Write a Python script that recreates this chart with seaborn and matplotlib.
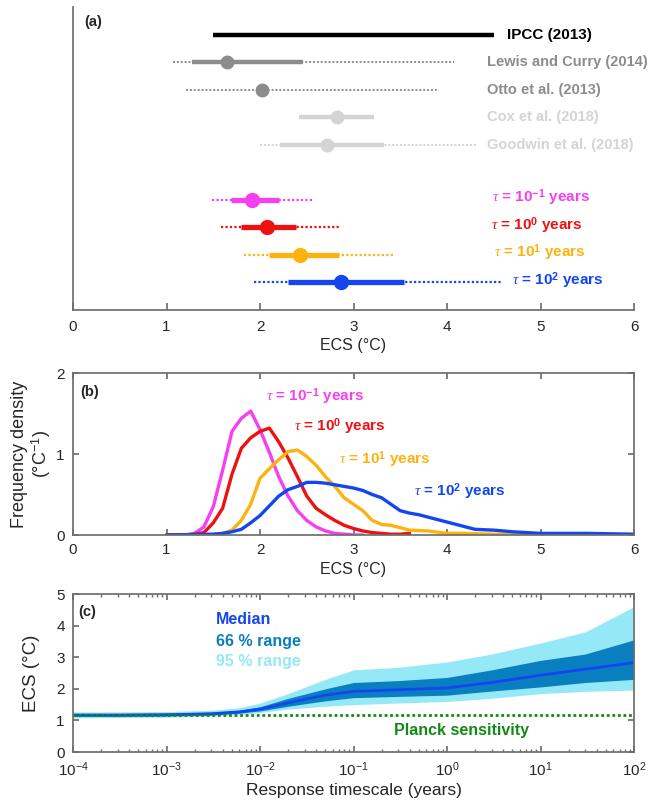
import numpy as np
import matplotlib
matplotlib.use("Agg")
import matplotlib.pyplot as plt
from matplotlib.ticker import NullFormatter
import seaborn as sns

# ---- panel (a): ECS ranges ----
ipcc_range = [1.5, 4.5]

lit_names = ["Lewis and Curry (2014)", "Otto et al. (2013)",
             "Cox et al. (2018)", "Goodwin et al. (2018)"]
lit_median = [1.65, 2.02, 2.82, 2.72]
lit_lo66 = [1.27, np.nan, 2.42, 2.21]
lit_hi66 = [2.46, np.nan, 3.22, 3.33]
lit_lo90 = [1.07, 1.21, np.nan, 2.00]
lit_hi90 = [4.07, 3.91, np.nan, 4.31]
lit_colors = ["#8c8c8c", "#8c8c8c", "#d4d4d4", "#d4d4d4"]

tau_labels = [r"$\tau$ = 10$^{\mathbf{-1}}$ years", r"$\tau$ = 10$^{\mathbf{0}}$ years",
              r"$\tau$ = 10$^{\mathbf{1}}$ years", r"$\tau$ = 10$^{\mathbf{2}}$ years"]
tau_median = [1.91, 2.07, 2.43, 2.87]
tau_lo66 = [1.69, 1.80, 2.10, 2.30]
tau_hi66 = [2.20, 2.38, 2.85, 3.54]
tau_lo95 = [1.49, 1.58, 1.83, 1.94]
tau_hi95 = [2.58, 2.85, 3.42, 4.59]
tau_colors = ["#f53ff0", "#ee1111", "#fdb20f", "#1446f0"]

# ---- panel (b): frequency densities ----
pdf_x_m1 = [1.0, 1.2, 1.3, 1.4, 1.5, 1.6, 1.7, 1.8, 1.9, 2.0, 2.1, 2.2, 2.3, 2.4,
            2.5, 2.6, 2.7, 2.8, 2.9, 3.0, 3.1]
pdf_y_m1 = [0, 0, 0.02, 0.10, 0.35, 0.80, 1.28, 1.44, 1.53, 1.30, 1.02, 0.72, 0.48,
            0.30, 0.18, 0.10, 0.05, 0.02, 0.01, 0, 0]
pdf_x_0 = [1.0, 1.2, 1.3, 1.4, 1.5, 1.6, 1.7, 1.8, 1.9, 2.0, 2.1, 2.2, 2.3, 2.4, 2.5,
           2.6, 2.7, 2.8, 2.9, 3.0, 3.1, 3.2, 3.3, 3.4, 3.5, 3.6]
pdf_y_0 = [0, 0, 0.01, 0.03, 0.15, 0.33, 0.75, 1.07, 1.20, 1.28, 1.32, 1.15, 0.95,
           0.72, 0.48, 0.33, 0.25, 0.18, 0.12, 0.08, 0.05, 0.03, 0.02, 0.01, 0.01, 0.02]
pdf_x_1 = [1.3, 1.5, 1.6, 1.7, 1.8, 1.9, 2.0, 2.1, 2.2, 2.3, 2.4, 2.5, 2.6, 2.7, 2.8,
           2.9, 3.0, 3.1, 3.2, 3.3, 3.4, 3.5, 3.6, 3.8, 4.0, 4.2, 4.5, 5.0, 5.3]
pdf_y_1 = [0, 0.01, 0.02, 0.06, 0.18, 0.38, 0.70, 0.82, 0.93, 1.03, 1.05, 0.97, 0.86,
           0.72, 0.60, 0.46, 0.38, 0.30, 0.18, 0.13, 0.12, 0.09, 0.06, 0.05, 0.02,
           0.02, 0.01, 0.01, 0.01]
pdf_x_2 = [1.0, 1.5, 1.6, 1.7, 1.8, 1.9, 2.0, 2.1, 2.2, 2.3, 2.4, 2.5, 2.6, 2.7, 2.8,
           2.9, 3.0, 3.1, 3.2, 3.3, 3.4, 3.5, 3.6, 3.7, 3.8, 3.9, 4.0, 4.1, 4.2, 4.3,
           4.5, 4.7, 5.0, 5.5, 6.0]
pdf_y_2 = [0, 0.01, 0.02, 0.04, 0.07, 0.15, 0.24, 0.36, 0.48, 0.56, 0.60, 0.65, 0.65,
           0.64, 0.62, 0.60, 0.58, 0.55, 0.50, 0.46, 0.38, 0.30, 0.27, 0.25, 0.22,
           0.19, 0.16, 0.13, 0.10, 0.07, 0.06, 0.04, 0.02, 0.02, 0.01]

# ---- panel (c): ECS vs response timescale ----
timescale = [1e-4, 3e-4, 1e-3, 3e-3, 6e-3, 1e-2, 2e-2, 5e-2, 1e-1, 3e-1, 1, 3, 10, 30, 100]
ecs_median = [1.17, 1.17, 1.18, 1.21, 1.27, 1.36, 1.56, 1.80, 1.92, 1.97, 2.03, 2.20,
              2.43, 2.62, 2.83]
ecs_p17 = [1.13, 1.13, 1.14, 1.17, 1.23, 1.30, 1.45, 1.62, 1.72, 1.76, 1.80, 1.93,
           2.06, 2.20, 2.30]
ecs_p83 = [1.22, 1.22, 1.23, 1.26, 1.32, 1.43, 1.70, 2.00, 2.20, 2.26, 2.36, 2.60,
           2.90, 3.10, 3.55]
ecs_p025 = [1.08, 1.09, 1.10, 1.14, 1.18, 1.25, 1.36, 1.45, 1.50, 1.55, 1.60, 1.70,
            1.85, 1.92, 1.96]
ecs_p975 = [1.27, 1.27, 1.28, 1.32, 1.40, 1.55, 1.85, 2.30, 2.60, 2.68, 2.85, 3.10,
            3.45, 3.80, 4.60]
planck = 1.18
c_ticks = [1e-4, 1e-3, 1e-2, 1e-1, 1, 10, 100]

sns.set_theme(style="ticks")
plt.rcParams["font.family"] = ["Liberation Sans", "DejaVu Sans"]
plt.rcParams["mathtext.fontset"] = "custom"
plt.rcParams["mathtext.rm"] = "Liberation Sans"
plt.rcParams["mathtext.bf"] = "Liberation Sans:bold"
plt.rcParams["mathtext.it"] = "Liberation Serif:italic"
plt.rcParams["axes.edgecolor"] = "#6e6e6e"
plt.rcParams["xtick.color"] = "#6e6e6e"
plt.rcParams["ytick.color"] = "#6e6e6e"
plt.rcParams["xtick.labelcolor"] = "#262626"
plt.rcParams["ytick.labelcolor"] = "#262626"
plt.rcParams["axes.labelcolor"] = "#262626"

fig = plt.figure(figsize=(6.48, 8.05), dpi=100)
ax_a = fig.add_axes([0.1127, 0.6149, 0.8657, 0.3762])
ax_b = fig.add_axes([0.1127, 0.3354, 0.8657, 0.2012])
ax_c = fig.add_axes([0.1127, 0.0658, 0.8657, 0.1963])

# panel (a)
ax_a.hlines(10, ipcc_range[0], ipcc_range[1], color="black", lw=3.2)
ax_a.text(4.64, 10, "IPCC (2013)", color="black", fontsize=11,
          fontweight="bold", va="center")
for i, name in enumerate(lit_names):
    row = 9 - i
    c = lit_colors[i]
    ax_a.hlines(row, lit_lo90[i], lit_hi90[i], color=c, lw=1.4, linestyles=(0, (1, 1)))
    ax_a.hlines(row, lit_lo66[i], lit_hi66[i], color=c, lw=3.2)
    ax_a.plot(lit_median[i], row, "o", color=c, ms=9)
    ax_a.text(4.43, row, name, color=c, fontsize=10.5, fontweight="bold", va="center")
for i, lab in enumerate(tau_labels):
    row = 4 - i
    c = tau_colors[i]
    ax_a.hlines(row, tau_lo95[i], tau_hi95[i], color=c, lw=1.6, linestyles=(0, (1, 1)))
    ax_a.hlines(row, tau_lo66[i], tau_hi66[i], color=c, lw=3.8)
    ax_a.plot(tau_median[i], row, "o", color=c, ms=10)
    ax_a.text([4.48, 4.47, 4.5, 4.7][i], row + 0.08, lab, color=c, fontsize=11,
              fontweight="bold", va="center")
ax_a.text(0.12, 10.45, "(a)", fontsize=10.5, fontweight="bold", va="center")
ax_a.set_xlim(0, 6)
ax_a.set_ylim(0, 11)
ax_a.set_yticks([])
ax_a.set_xticks(range(7))
ax_a.tick_params(axis="x", direction="in", length=5, labelsize=11, pad=7)
ax_a.set_xlabel("ECS (°C)", fontsize=11.5, labelpad=3)
sns.despine(ax=ax_a)

# panel (b)
curves = [(pdf_x_m1, pdf_y_m1), (pdf_x_0, pdf_y_0), (pdf_x_1, pdf_y_1), (pdf_x_2, pdf_y_2)]
for (xs, ys), c in zip(curves, tau_colors):
    sns.lineplot(x=xs, y=ys, ax=ax_b, color=c, lw=2.4, estimator=None, sort=False)
b_label_pos = [(2.06, 1.71), (2.36, 1.34), (2.85, 0.93), (3.65, 0.54)]
for (tx, ty), lab, c in zip(b_label_pos, tau_labels, tau_colors):
    ax_b.text(tx, ty, lab, color=c, fontsize=11, fontweight="bold", va="center")
ax_b.text(0.08, 1.77, "(b)", fontsize=10.5, fontweight="bold", va="center")
ax_b.set_xlim(0, 6)
ax_b.set_ylim(0, 2)
ax_b.set_xticks(range(7))
ax_b.set_yticks([0, 1, 2])
ax_b.tick_params(direction="in", length=4, labelsize=11, top=True, right=True, pad=6)
ax_b.set_xlabel("ECS (°C)", fontsize=11.5, labelpad=3)
ax_b.set_ylabel("Frequency density\n(°C$^{-1}$)", fontsize=13, labelpad=2,
                linespacing=1.1)

# panel (c)
ax_c.fill_between(timescale, ecs_p025, ecs_p975, color="#95e9f7", lw=0)
ax_c.fill_between(timescale, ecs_p17, ecs_p83, color="#0a7fc0", lw=0)
sns.lineplot(x=timescale, y=ecs_median, ax=ax_c, color="#1446f0", lw=2,
             estimator=None, sort=False)
ax_c.axhline(planck, color="#138a13", lw=2, ls=(0, (1, 1)))
ax_c.set_xscale("log")
ax_c.set_xticks(c_ticks)
ax_c.xaxis.set_minor_formatter(NullFormatter())
ax_c.set_xlim(1e-4, 1e2)
ax_c.set_ylim(0, 5)
ax_c.set_yticks(range(6))
ax_c.tick_params(direction="in", length=4, labelsize=11, top=True, right=True, pad=6)
ax_c.tick_params(which="minor", direction="in", length=2.5, top=True)
ax_c.tick_params(axis="y", which="minor", left=False, right=False)
ax_c.text(0.0034, 4.18, "Median", color="#1446f0", fontsize=11.5, fontweight="bold",
          va="center")
ax_c.text(0.0034, 3.49, "66 % range", color="#0a7fc0", fontsize=11.5,
          fontweight="bold", va="center")
ax_c.text(0.0034, 2.85, "95 % range", color="#95e9f7", fontsize=11.5,
          fontweight="bold", va="center")
ax_c.text(0.27, 0.69, "Planck sensitivity", color="#138a13", fontsize=11.5,
          fontweight="bold", va="center")
ax_c.text(1.15e-4, 4.44, "(c)", fontsize=10.5, fontweight="bold", va="center")
ax_c.set_xlabel("Response timescale (years)", fontsize=12.5, labelpad=3)
ax_c.set_ylabel("ECS (°C)", fontsize=13.5, labelpad=12)

fig.savefig("out.png", dpi=100)
